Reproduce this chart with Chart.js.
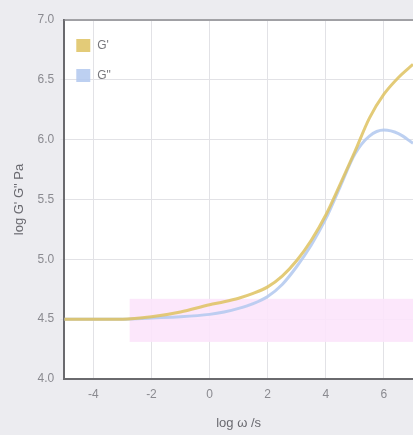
<!DOCTYPE html>
<html>
<head>
<meta charset="utf-8">
<script src="https://cdn.jsdelivr.net/npm/chart.js@4/dist/chart.umd.min.js"></script>
<style>
  html, body { margin: 0; padding: 0; background: #ececf0; }
  #wrap { width: 413px; height: 435px; }
</style>
</head>
<body>
<div id="wrap"><canvas id="chart"></canvas></div>
<script>
// log frequency and the two moduli
const logOmega = [-5, -4, -3, -2, -1, 0, 0.5, 1, 1.5, 2, 2.5, 3, 3.5, 4, 4.5, 5, 5.5, 6, 6.5, 7];
const storageModulus = [4.5, 4.5, 4.5, 4.52, 4.56, 4.62, 4.645, 4.675, 4.715, 4.77, 4.86, 4.99, 5.16, 5.37, 5.63, 5.9, 6.18, 6.38, 6.52, 6.63];
const lossModulus = [4.5, 4.5, 4.5, 4.51, 4.52, 4.54, 4.56, 4.59, 4.63, 4.69, 4.79, 4.94, 5.12, 5.34, 5.61, 5.88, 6.03, 6.08, 6.05, 5.97];

const seriesNames = ["G'", 'G"'];
const seriesColors = ['rgba(222, 194, 96, 0.85)', 'rgba(178, 200, 238, 0.85)'];
const xTicks = [-4, -2, 0, 2, 4, 6];

// shaded band behind the low-frequency part
const band = { x0: -2.75, x1: 7, y0: 4.31, y1: 4.67 };

function toPoints(xs, ys) {
    return xs.map((x, i) => ({ x: x, y: ys[i] }));
}

// white plot area, band and frame
const plotBox = {
    id: 'plotBox',
    beforeDraw(chart) {
        const { ctx, chartArea: a } = chart;
        ctx.save();
        ctx.fillStyle = '#ffffff';
        ctx.fillRect(a.left, a.top, a.right - a.left, a.bottom - a.top);
        ctx.restore();
    },
    beforeDatasetsDraw(chart) {
        const { ctx, scales } = chart;
        ctx.save();
        ctx.fillStyle = 'rgba(252, 228, 251, 0.9)';
        const bx0 = scales.x.getPixelForValue(band.x0);
        const bx1 = scales.x.getPixelForValue(band.x1);
        const by0 = scales.y.getPixelForValue(band.y1);
        const by1 = scales.y.getPixelForValue(band.y0);
        ctx.fillRect(bx0, by0, bx1 - bx0, by1 - by0);
        ctx.restore();
    },
    afterDraw(chart) {
        const { ctx, chartArea: a } = chart;
        ctx.save();
        ctx.strokeStyle = '#8a8a8e';
        ctx.lineWidth = 1.5;
        ctx.beginPath();
        ctx.moveTo(a.left, a.top);
        ctx.lineTo(a.right, a.top);
        ctx.stroke();

        // legend inside the plot
        ctx.font = '12px "Liberation Sans", Arial, sans-serif';
        ctx.textBaseline = 'middle';
        seriesNames.forEach((name, i) => {
            const y = a.top + 26 + i * 30;
            ctx.fillStyle = seriesColors[i];
            ctx.fillRect(a.left + 12, y - 7, 14, 13);
            ctx.fillStyle = '#77777c';
            ctx.fillText(name, a.left + 33, y);
        });
        ctx.restore();
    }
};

new Chart(document.getElementById('chart'), {
    type: 'line',
    data: {
        datasets: [
            {
                label: seriesNames[0],
                data: toPoints(logOmega, storageModulus),
                borderColor: seriesColors[0],
                borderWidth: 3,
                pointRadius: 0,
                cubicInterpolationMode: 'monotone'
            },
            {
                label: seriesNames[1],
                data: toPoints(logOmega, lossModulus),
                borderColor: seriesColors[1],
                borderWidth: 3,
                pointRadius: 0,
                cubicInterpolationMode: 'monotone'
            }
        ]
    },
    options: {
        responsive: true,
        maintainAspectRatio: false,
        animation: false,
        layout: { padding: { top: 20, right: 0, left: 8, bottom: 2 } },
        plugins: {
            legend: { display: false },
            tooltip: { enabled: false }
        },
        scales: {
            x: {
                type: 'linear',
                min: -5,
                max: 7,
                afterBuildTicks(axis) {
                    axis.ticks = xTicks.map(v => ({ value: v }));
                },
                grid: { color: '#e2e2e6', drawTicks: false },
                border: { color: '#6a6a6e', width: 2 },
                ticks: {
                    color: '#8a8a90',
                    padding: 8,
                    font: { family: '"Liberation Sans", Arial, sans-serif', size: 12 }
                },
                title: {
                    display: true,
                    text: 'log ω /s',
                    color: '#6a6a70',
                    padding: { top: 6, bottom: 2 },
                    font: { family: '"Liberation Sans", Arial, sans-serif', size: 13 }
                }
            },
            y: {
                min: 4,
                max: 7,
                ticks: {
                    stepSize: 0.5,
                    color: '#8a8a90',
                    padding: 6,
                    callback: v => v.toFixed(1),
                    font: { family: '"Liberation Sans", Arial, sans-serif', size: 12 }
                },
                grid: { color: '#e2e2e6', drawTicks: true, tickLength: 4 },
                border: { color: '#6a6a6e', width: 2 },
                title: {
                    display: true,
                    text: 'log G\' G" Pa',
                    color: '#6a6a70',
                    font: { family: '"Liberation Sans", Arial, sans-serif', size: 13 }
                }
            }
        }
    },
    plugins: [plotBox]
});
</script>
</body>
</html>
